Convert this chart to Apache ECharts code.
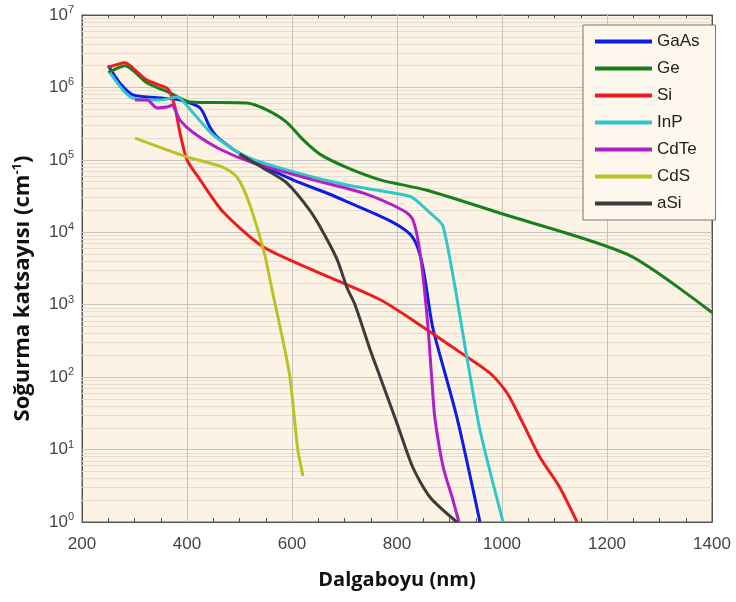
<!DOCTYPE html>
<html><head><meta charset="utf-8">
<script src="https://cdn.jsdelivr.net/npm/echarts@6/dist/echarts.min.js"></script>
<style>html,body{margin:0;padding:0;background:#fff}#c{width:736px;height:602px}</style>
</head><body><div id="c"></div>
<script>
var names = ['GaAs','Ge','Si','InP','CdTe','CdS','aSi'];
var colors = ['#0a1ee6','#16801c','#ee1c1c','#2ec8c8','#b020c8','#bcc226','#3c3c3c'];
var xTicks = [200,400,600,800,1000,1200,1400];
var yDecades = [1,10,100,1000,10000,100000,1000000,10000000];

var gaas = [[250,2.0e6],[272,1.15e6],[297,7.9e5],[354,7.1e5],[387,6.7e5],[425,5.2e5],[444,2.8e5],[463,1.9e5],[514,1.07e5],[602,5.3e4],[697,2.8e4],[830,8.5e3],[869,450],[914,28],[958,1]];
var ge = [[250,1.6e6],[282,2.0e6],[324,1.15e6],[368,8.4e5],[406,6.3e5],[514,6.1e5],[552,4.9e5],[590,3.3e5],[621,1.9e5],[653,1.2e5],[705,7.8e4],[768,5.3e4],[857,3.8e4],[1000,1.8e4],[1240,4.9e3],[1400,780]];
var si = [[250,1.9e6],[282,2.2e6],[297,1.85e6],[324,1.26e6],[362,9.8e5],[368,8.4e5],[377,5.4e5],[387,2.3e5],[400,1.0e5],[425,5.3e4],[469,1.9e4],[545,6.3e3],[640,3.0e3],[768,1.17e3],[850,490],[914,236],[977,114],[1010,60],[1040,23],[1072,7.9],[1110,3.0],[1143,1]];
var inp = [[253,1.6e6],[278,9.2e5],[297,7.1e5],[349,6.7e5],[381,7.4e5],[411,4.5e5],[450,2.2e5],[514,1.1e5],[610,6.6e4],[705,4.5e4],[812,3.3e4],[830,3.0e4],[863,1.85e4],[888,1.2e4],[933,190],[958,18.6],[1002,1]];
var cdte = [[301,6.7e5],[324,6.7e5],[343,5.2e5],[364,5.4e5],[371,5.7e5],[387,3.5e5],[411,2.4e5],[463,1.4e5],[526,9.1e4],[640,5.3e4],[735,3.5e4],[812,2.0e4],[830,1.5e4],[844,5.2e3],[858,600],[866,100],[872,28],[888,5.7],[905,2.2],[918,1]];
var cds = [[301,2.0e5],[400,1.1e5],[469,7.9e4],[495,5.8e4],[514,3.1e4],[533,1.2e4],[549,4.6e3],[562,1.6e3],[580,400],[596,100],[611,10],[621,4.3]];
var asi = [[500,1.2e5],[552,7.2e4],[590,4.8e4],[634,2.0e4],[660,9.8e3],[686,4.2e3],[705,1.7e3],[720,1.0e3],[749,237],[768,100],[800,23],[830,5.7],[863,2.2],[914,1]];
var seriesData = [gaas, ge, si, inp, cdte, cds, asi];

var minorY = [];
for (var d = 0; d < 7; d++) for (var m = 2; m <= 9; m++) minorY.push(m * Math.pow(10, d));

var chart = echarts.init(document.getElementById('c'));
var tickFont = 'Liberation Sans, Arial, sans-serif';
var yAxisBase = {
  type: 'log', logBase: 10, min: 1, max: 1e7, interval: 1,
  axisLine: {show: true, lineStyle: {color: '#555', width: 1}},
  axisTick: {show: true, inside: true, length: 6, lineStyle: {color: '#555'}},
  splitLine: {show: false}
};
var series = [{
  type: 'line', data: [], silent: true, xAxisIndex: 0, yAxisIndex: 0, z: 1,
  markLine: {silent: true, symbol: 'none', animation: false, label: {show: false}, z: 1,
    lineStyle: {color: '#e4ddd2', width: 1, type: 'solid'},
    data: minorY.map(function (v) { return {yAxis: v}; })}
}, {
  type: 'line', data: [], silent: true, xAxisIndex: 0, yAxisIndex: 0, z: 1,
  markLine: {silent: true, symbol: 'none', animation: false, label: {show: false}, z: 1,
    lineStyle: {color: '#c6c4c0', width: 1, type: 'solid'},
    data: yDecades.slice(1, -1).map(function (v) { return {yAxis: v}; }).concat(xTicks.slice(1, -1).map(function (v) { return {xAxis: v}; }))}
}];
names.forEach(function (n, i) {
  series.push({name: n, type: 'line', data: seriesData[i], showSymbol: false, symbol: 'none', smooth: 0.25, z: 4,
    lineStyle: {color: colors[i], width: 3}, itemStyle: {color: colors[i]}, animation: false});
});

chart.setOption({
  animation: false,
  backgroundColor: '#ffffff',
  grid: {left: 82, right: 24, top: 15, bottom: 80, show: true, backgroundColor: '#fcf3e4', borderColor: '#555', borderWidth: 1},
  legend: {
    data: names, orient: 'vertical', left: 583, top: 25, icon: 'rect', itemWidth: 57, itemHeight: 4, itemGap: 10,
    padding: [8, 16, 8, 12], backgroundColor: '#fdf7ee', borderColor: '#777', borderWidth: 1,
    textStyle: {fontFamily: tickFont, fontSize: 17, color: '#222', lineHeight: 16.5}
  },
  xAxis: [{
    type: 'value', min: 200, max: 1400, interval: 200, position: 'bottom',
    name: 'Dalgaboyu (nm)', nameLocation: 'middle', nameGap: 48,
    nameTextStyle: {fontFamily: 'Open Sans', fontWeight: 'bold', fontSize: 20, color: '#111'},
    axisLine: {show: true, onZero: false, lineStyle: {color: '#555'}},
    axisTick: {show: true, inside: true, length: 6, lineStyle: {color: '#555'}},
    minorTick: {show: true, splitNumber: 4, length: 4, lineStyle: {color: '#555'}},
    splitLine: {show: false},
    axisLabel: {fontFamily: tickFont, fontSize: 17, color: '#444', margin: 14, formatter: function (v) { return String(v); }}
  }, {
    type: 'value', min: 200, max: 1400, interval: 200, position: 'top',
    axisLine: {show: true, onZero: false, lineStyle: {color: '#555'}},
    axisTick: {show: true, inside: true, length: 6, lineStyle: {color: '#555'}},
    minorTick: {show: true, splitNumber: 4, length: 4, lineStyle: {color: '#555'}},
    splitLine: {show: false}, axisLabel: {show: false}
  }],
  yAxis: [Object.assign({}, yAxisBase, {
    position: 'left',
    name: '{t|Soğurma katsayısı (cm}{s|-1}{t|)}', nameLocation: 'middle', nameGap: 47, nameRotate: 90,
    nameTextStyle: {padding: [0, 40, 0, 0], rich: {
      t: {fontFamily: 'Open Sans', fontWeight: 'bold', fontSize: 22, color: '#111'},
      s: {fontFamily: 'Open Sans', fontWeight: 'bold', fontSize: 13, color: '#111', padding: [0, 0, 11, 0]}
    }},
    axisLabel: {
      margin: 8,
      formatter: function (v) { return '{b|10}{s|' + Math.round(Math.log10(v)) + '}'; },
      rich: {
        b: {fontFamily: tickFont, fontSize: 17, color: '#444'},
        s: {fontFamily: tickFont, fontSize: 11, color: '#444', padding: [0, 0, 10, 0]}
      }
    }
  }), Object.assign({}, yAxisBase, {position: 'right', axisLabel: {show: false}})],
  series: series
});
</script></body></html>
